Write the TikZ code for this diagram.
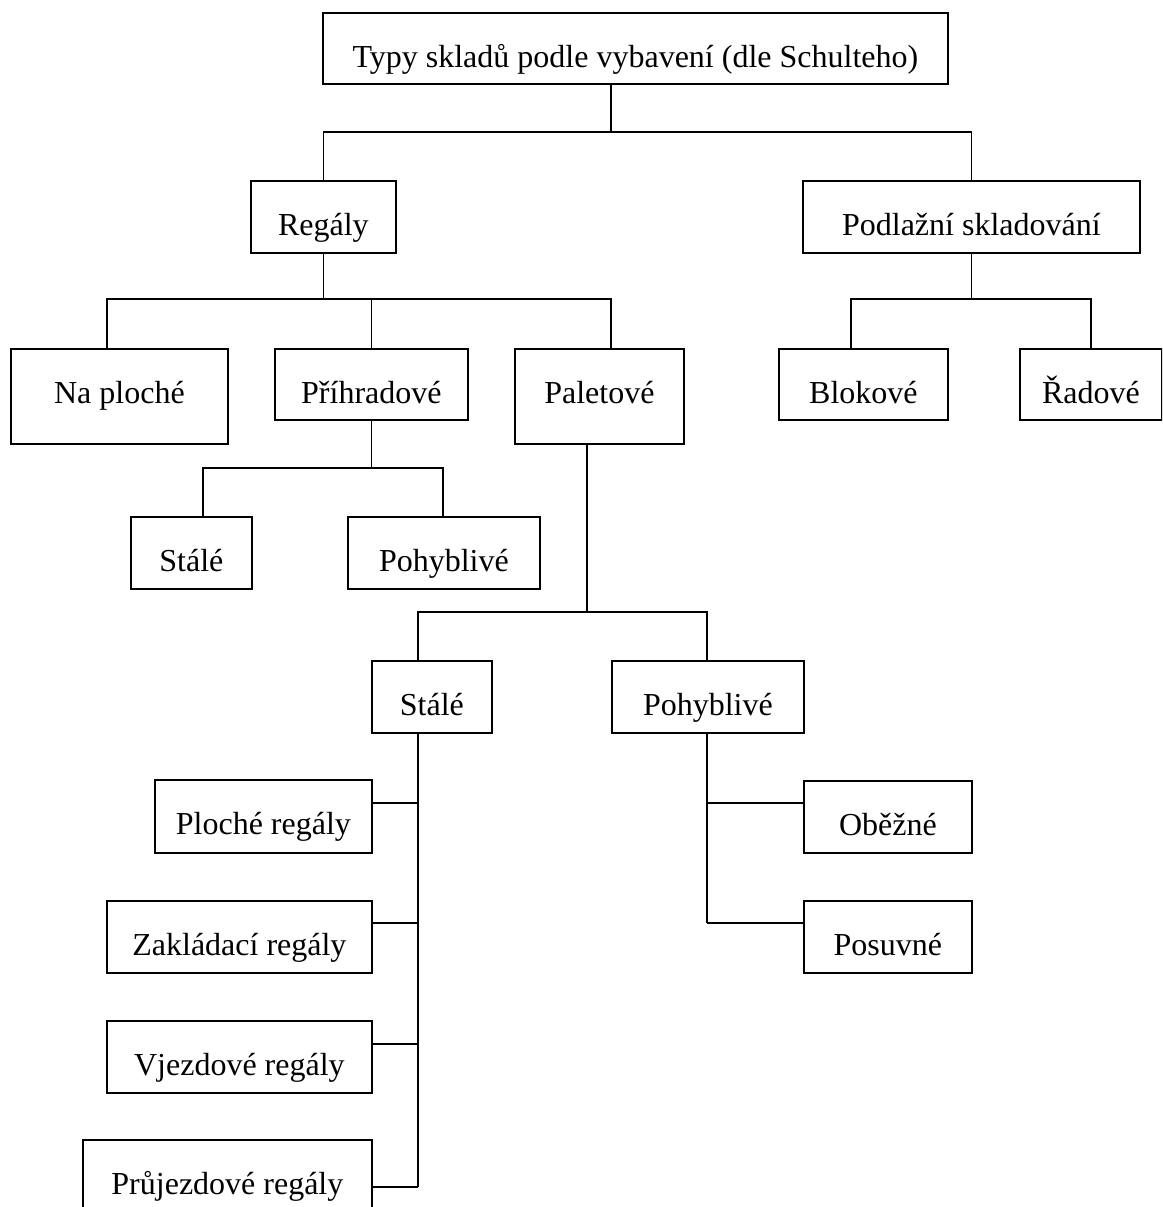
\documentclass[tikz,border=0pt]{standalone}
\usepackage{fontspec}
\setmainfont{Liberation Serif}
\begin{document}
\begin{tikzpicture}[x=1pt,y=-1pt,
  box/.style={draw, line width=1.8pt, inner sep=0pt, text height=55pt, anchor=north west,
    font=\fontsize{32}{36}\selectfont},
  conn/.style={line width=1.8pt}]
\clip (0,0) rectangle (1162,1207);
% boxes
\node[box, minimum width=625pt, text depth=16pt] (top) at (322,12) {Typy skladů podle vybavení (dle Schulteho)};
\node[box, minimum width=145pt, text depth=17pt] (regaly) at (250,180) {Regály};
\node[box, minimum width=337pt, text depth=17pt] (podl) at (802,180) {Podlažní skladování};
\node[box, minimum width=217pt, text depth=40pt] (naplo) at (10,348) {Na ploché};
\node[box, minimum width=193pt, text depth=16pt] (prihr) at (274,348) {Příhradové};
\node[box, minimum width=169pt, text depth=40pt] (palet) at (514,348) {Paletové};
\node[box, minimum width=169pt, text depth=16pt] (blok) at (778,348) {Blokové};
\node[box, minimum width=142pt, text depth=16pt] (radove) at (1019,348) {Řadové};
\node[box, minimum width=121pt, text depth=17pt] (staleA) at (130,516) {Stálé};
\node[box, minimum width=192pt, text depth=17pt] (pohybA) at (347,516) {Pohyblivé};
\node[box, minimum width=120pt, text depth=17pt] (staleB) at (371,660) {Stálé};
\node[box, minimum width=192pt, text depth=17pt] (pohybB) at (611,660) {Pohyblivé};
\node[box, minimum width=217pt, text depth=18pt] (ploche) at (154,779) {Ploché regály};
\node[box, minimum width=265pt, text depth=17pt] (zaklad) at (106,900) {Zakládací regály};
\node[box, minimum width=265pt, text depth=17pt] (vjezd) at (106,1020) {Vjezdové regály};
\node[box, minimum width=289pt, text depth=17pt] (pruj) at (82,1139) {Průjezdové regály};
\node[box, minimum width=168pt, text depth=17pt] (obezne) at (803,780) {Oběžné};
\node[box, minimum width=168pt, text depth=17pt] (posuv) at (803,900) {Posuvné};
% junction coordinates
\coordinate (j0) at (611,132);
\coordinate (j1) at (107,299);
\coordinate (j1r) at (611,299);
\coordinate (j2) at (851,299);
\coordinate (j2r) at (1091,299);
\coordinate (j3) at (203,468);
\coordinate (j3r) at (443,468);
\coordinate (j4) at (587,612);
\coordinate (j4l) at (418,612);
\coordinate (j4r) at (707,612);
\coordinate (s1) at (418,803);
\coordinate (s2) at (418,923);
\coordinate (s3) at (418,1044);
\coordinate (s4) at (418,1187);
\coordinate (p1) at (707,803);
\coordinate (p2) at (707,923);
% connectors
\draw[conn] (top.south -| j0) -- (j0);
\draw[conn] (regaly.north) |- (j0) -| (podl.north);
\draw[conn] (regaly.south) -- (regaly.south |- j1);
\draw[conn] (naplo.north -| j1) -- (j1) -- (j1r) -- (palet.north -| j1r);
\draw[conn] (prihr.north) -- (prihr.north |- j1);
\draw[conn] (podl.south) -- (podl.south |- j2);
\draw[conn] (blok.north -| j2) -- (j2) -- (j2r) -- (radove.north -| j2r);
\draw[conn] (prihr.south) -- (prihr.south |- j3);
\draw[conn] (staleA.north -| j3) -- (j3) -- (j3r) -- (pohybA.north -| j3r);
\draw[conn] (palet.south -| j4) -- (j4);
\draw[conn] (staleB.north -| j4l) -- (j4l) -- (j4r) -- (pohybB.north -| j4r);
\draw[conn] (staleB.south -| s1) -- (s4);
\draw[conn] (s1) -- (ploche.east |- s1);
\draw[conn] (s2) -- (zaklad.east |- s2);
\draw[conn] (s3) -- (vjezd.east |- s3);
\draw[conn] (s4) -- (pruj.east |- s4);
\draw[conn] (pohybB.south -| p1) -- (p2);
\draw[conn] (p1) -- (obezne.west |- p1);
\draw[conn] (p2) -- (posuv.west |- p2);
\end{tikzpicture}
\end{document}
